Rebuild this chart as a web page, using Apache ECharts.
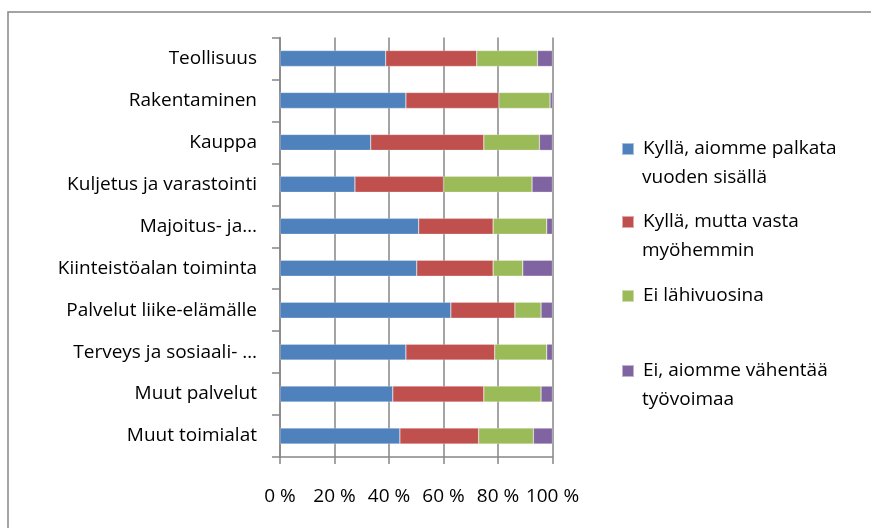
<!DOCTYPE html>
<html>
<head>
<meta charset="utf-8">
<script src="https://cdn.jsdelivr.net/npm/echarts@6/dist/echarts.min.js"></script>
<style>
  html, body { margin: 0; padding: 0; background: #fff; }
  #chart { width: 871px; height: 528px; }
</style>
</head>
<body>
<div id="chart"></div>
<script>
// toimialat, ylhäältä alas
const categories = [
  'Teollisuus',
  'Rakentaminen',
  'Kauppa',
  'Kuljetus ja varastointi',
  'Majoitus- ja…',
  'Kiinteistöalan toiminta',
  'Palvelut liike-elämälle',
  'Terveys ja sosiaali- …',
  'Muut palvelut',
  'Muut toimialat'
];

// osuudet (%)
const hireWithinYear = [38.8, 46.2, 33.3, 27.5, 50.9, 50.2, 62.7, 46.2, 41.4, 44.0];
const hireLater      = [33.4, 34.1, 41.5, 32.5, 27.3, 28.0, 23.5, 32.6, 33.4, 28.9];
const notSoon        = [22.3, 18.8, 20.4, 32.5, 19.7, 10.9,  9.6, 19.1, 21.0, 20.1];
const reduceStaff    = [ 5.5,  0.9,  4.8,  7.5,  2.1, 10.9,  4.2,  2.1,  4.2,  7.0];

const seriesNames = [
  'Kyllä, aiomme palkata vuoden sisällä',
  'Kyllä, mutta vasta myöhemmin',
  'Ei lähivuosina',
  'Ei, aiomme vähentää työvoimaa'
];
const legendLines = [
  ['Kyllä, aiomme palkata', 'vuoden sisällä'],
  ['Kyllä, mutta vasta', 'myöhemmin'],
  ['Ei lähivuosina', ''],
  ['Ei, aiomme vähentää', 'työvoimaa']
];
const colors = ['#4F81BD', '#C0504D', '#9BBB59', '#8064A2'];
const seriesData = [hireWithinYear, hireLater, notSoon, reduceStaff];

const FONT = 'Open Sans';
const FS = 19;
const lineColor = '#868686';
const legendTops = [139, 212, 286, 361];

const chart = echarts.init(document.getElementById('chart'), null, { renderer: 'canvas' });

const option = {
  animation: false,
  backgroundColor: '#fff',
  textStyle: { fontFamily: FONT },
  grid: { left: 280, right: 318.5, top: 37.5, bottom: 71, containLabel: false },
  legend: seriesNames.map((name, i) => ({
    data: [name],
    orient: 'vertical',
    left: 621,
    top: legendTops[i],
    padding: 0,
    itemWidth: 12,
    itemHeight: 12,
    icon: 'rect',
    selectedMode: false,
    formatter: () => legendLines[i][0],
    textStyle: { fontFamily: FONT, fontSize: FS, color: '#000', lineHeight: 20, padding: [0, 0, 0, 4] }
  })),
  graphic: [
    {
      type: 'rect',
      silent: true,
      shape: { x: 8, y: 12, width: 900, height: 600 },
      style: { fill: 'none', stroke: lineColor, lineWidth: 1.5 }
    },
    ...legendLines.map((l, i) => ({
      type: 'text',
      silent: true,
      left: 642,
      top: legendTops[i] + 29,
      style: { text: l[1], fontFamily: FONT, fontSize: FS, fill: '#000', lineHeight: 20 }
    }))
  ],
  xAxis: {
    type: 'value',
    min: 0,
    max: 100,
    interval: 20,
    axisLine: { show: true, lineStyle: { color: lineColor, width: 1.5 } },
    axisTick: { show: true, length: 7, lineStyle: { color: lineColor, width: 1.5 } },
    splitLine: { show: true, lineStyle: { color: lineColor, width: 1.5 } },
    axisLabel: { formatter: '{value} %', fontFamily: FONT, fontSize: FS, color: '#000', margin: 30 }
  },
  yAxis: {
    type: 'category',
    inverse: true,
    data: categories,
    axisLine: { show: true, lineStyle: { color: lineColor, width: 1.5 } },
    axisTick: { show: true, length: 8, lineStyle: { color: lineColor, width: 1.5 } },
    axisLabel: { fontFamily: FONT, fontSize: FS, color: '#000', margin: 23 }
  },
  series: seriesNames.map((name, i) => ({
    name: name,
    type: 'bar',
    stack: 'total',
    barCategoryGap: '62%',
    data: seriesData[i],
    itemStyle: { color: colors[i], borderColor: 'rgba(255,255,255,0.5)', borderWidth: 0.5 }
  }))
};

chart.setOption(option);
</script>
</body>
</html>
